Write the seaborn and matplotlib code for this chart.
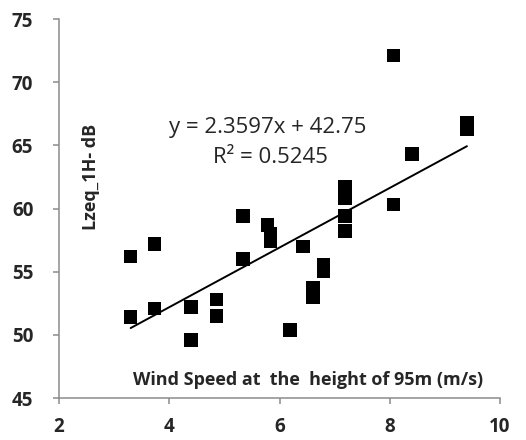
import matplotlib
matplotlib.use("Agg")
import matplotlib.pyplot as plt
import seaborn as sns
import pandas as pd

wind_speed = [3.30, 3.30, 3.73, 3.73, 4.39, 4.39, 4.86, 4.86, 5.34, 5.34,
              5.78, 5.84, 5.84, 6.19, 6.43, 6.61, 6.61, 6.80, 6.80,
              7.19, 7.19, 7.19, 7.19, 8.07, 8.07, 8.40, 9.40, 9.40]
lzeq = [56.2, 51.4, 57.2, 52.1, 52.2, 49.6, 52.8, 51.5, 59.4, 56.0,
        58.7, 58.0, 57.4, 50.4, 57.0, 53.7, 53.0, 55.55, 55.05,
        61.75, 60.8, 59.4, 58.2, 72.1, 60.3, 64.3, 66.8, 66.3]
slope = 2.3597
intercept = 42.75
r2 = 0.5245
x_ticks = [2, 4, 6, 8, 10]
y_ticks = [45, 50, 55, 60, 65, 70, 75]

df = pd.DataFrame({"x": wind_speed, "y": lzeq})
xe = [min(wind_speed), max(wind_speed)]
trend = pd.DataFrame({"x": xe, "y": [slope * v + intercept for v in xe]})

sns.set_style("white")
plt.rcParams["font.family"] = ["Open Sans", "DejaVu Sans"]

fig = plt.figure(figsize=(5.26, 4.4), dpi=100)
ax = fig.add_axes([59 / 526, 1 - 398 / 440, 441 / 526, 379 / 440])

sns.lineplot(data=trend, x="x", y="y", ax=ax, color="black", linewidth=1.4)
sns.scatterplot(data=df, x="x", y="y", ax=ax, marker="s", color="black",
                s=95, edgecolor="none", linewidth=0, zorder=3)

ax.set_xlim(2, 10)
ax.set_ylim(45, 75)
ax.set_xticks(x_ticks)
ax.set_yticks(y_ticks)
ax.set_xticklabels([str(t) for t in x_ticks], fontsize=13.5, fontweight="bold")
ax.set_yticklabels([str(t) for t in y_ticks], fontsize=13.5, fontweight="bold")
ax.set_xlabel("")
ax.set_ylabel("")
for s in ["top", "right"]:
    ax.spines[s].set_visible(False)
for s in ["left", "bottom"]:
    ax.spines[s].set_color("#8c8c8c")
    ax.spines[s].set_linewidth(1.1)
ax.tick_params(axis="both", direction="out", length=4.5, width=1.1,
               color="#8c8c8c", bottom=True, left=True)
ax.tick_params(axis="y", pad=14)
ax.tick_params(axis="x", pad=9)

ax.text(3.34, 46.03, "Wind Speed at  the  height of 95m (m/s)",
        fontsize=13, fontweight="bold", ha="left", va="baseline")
ax.text(2.58, 62.5, "Lzeq_1H- dB", fontsize=13, fontweight="bold",
        rotation=90, ha="center", va="center")
ax.text(5.78, 66.38, f"y = {slope}x + {intercept}", fontsize=16,
        ha="center", va="center")
ax.text(5.83, 64.0, f"R² = {r2}", fontsize=16, ha="center", va="center")

fig.savefig("out.png", dpi=100)
